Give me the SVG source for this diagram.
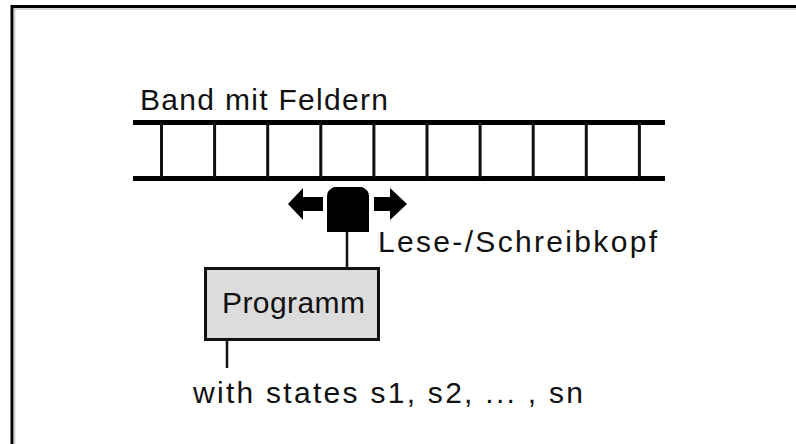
<svg xmlns="http://www.w3.org/2000/svg" width="796" height="444" viewBox="0 0 796 444">
  <style>
    .lbl { font-family: "Liberation Sans", Arial, sans-serif; font-size: 30px; fill: #111; }
    .rail { stroke: #000; stroke-width: 5; fill: none; }
    .cell { stroke: #111; stroke-width: 3; fill: none; }
    .wire { stroke: #111; stroke-width: 2.5; fill: none; }
  </style>
  <rect width="796" height="444" fill="#ffffff"/>
  <!-- sunken frame edge -->
  <g id="frame">
    <line x1="12" y1="6.5" x2="796" y2="6.5" stroke="#000" stroke-width="3"/>
    <line x1="12" y1="5" x2="12" y2="444" stroke="#000" stroke-width="3"/>
    <line x1="14" y1="9" x2="796" y2="9" stroke="#c8c8c8" stroke-width="1.5"/>
    <line x1="14.5" y1="8" x2="14.5" y2="444" stroke="#c8c8c8" stroke-width="1.5"/>
  </g>
  <!-- tape with cells -->
  <g id="tape">
    <text class="lbl" x="140" y="110" textLength="248" lengthAdjust="spacing">Band mit Feldern</text>
    <line class="rail" x1="133" y1="122.5" x2="665" y2="122.5"/>
    <line class="rail" x1="133" y1="178.5" x2="665" y2="178.5"/>
    <g class="cell">
      <line x1="161.5" y1="122" x2="161.5" y2="178"/>
      <line x1="214.6" y1="122" x2="214.6" y2="178"/>
      <line x1="267.7" y1="122" x2="267.7" y2="178"/>
      <line x1="320.8" y1="122" x2="320.8" y2="178"/>
      <line x1="373.9" y1="122" x2="373.9" y2="178"/>
      <line x1="427.0" y1="122" x2="427.0" y2="178"/>
      <line x1="480.1" y1="122" x2="480.1" y2="178"/>
      <line x1="533.2" y1="122" x2="533.2" y2="178"/>
      <line x1="586.3" y1="122" x2="586.3" y2="178"/>
      <line x1="639.4" y1="122" x2="639.4" y2="178"/>
    </g>
  </g>
  <!-- read/write head with movement arrows -->
  <g id="head">
    <path d="M334 187 L362 187 Q369 190 369 196 L369 232 L327 232 L327 196 Q327 190 334 187 Z" fill="#000"/>
    <path d="M288 204 L303 188 L303 197 L323 197 L323 211 L303 211 L303 220 Z" fill="#000"/>
    <path d="M407 204 L390 188 L390 197 L374 197 L374 211 L390 211 L390 220 Z" fill="#000"/>
    <text class="lbl" x="378" y="252" textLength="279" lengthAdjust="spacing">Lese-/Schreibkopf</text>
  </g>
  <!-- program box -->
  <g id="program">
    <rect x="205.5" y="268.5" width="173" height="71" fill="#dcdcdc" stroke="#111" stroke-width="3"/>
    <text class="lbl" x="222" y="313" textLength="143" lengthAdjust="spacing">Programm</text>
  </g>
  <g id="states">
    <text class="lbl" x="193" y="403" textLength="390" lengthAdjust="spacing">with states s1, s2, ... , sn</text>
  </g>
  <!-- connectors -->
  <g id="connectors">
    <line class="wire" x1="347" y1="232" x2="347" y2="268"/>
    <line class="wire" x1="227" y1="340" x2="227" y2="368"/>
  </g>
</svg>
